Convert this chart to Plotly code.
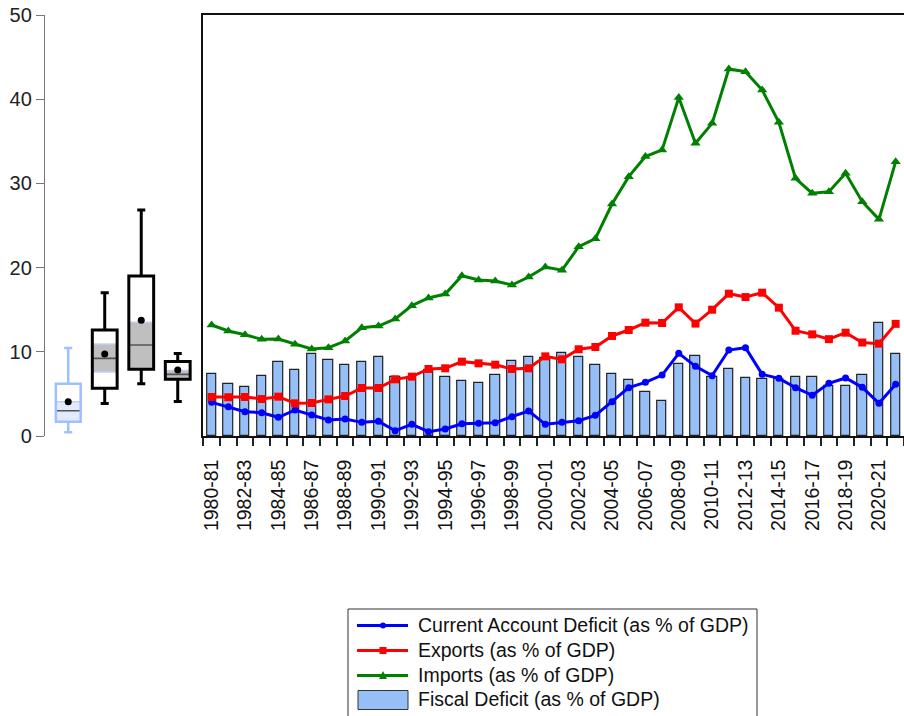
import plotly.graph_objects as go

years = ["1980-81","1981-82","1982-83","1983-84","1984-85","1985-86","1986-87","1987-88",
         "1988-89","1989-90","1990-91","1991-92","1992-93","1993-94","1994-95","1995-96",
         "1996-97","1997-98","1998-99","1999-00","2000-01","2001-02","2002-03","2003-04",
         "2004-05","2005-06","2006-07","2007-08","2008-09","2009-10","2010-11","2011-12",
         "2012-13","2013-14","2014-15","2015-16","2016-17","2017-18","2018-19","2019-20",
         "2020-21","2021-22"]

cad = [4.0,3.48,2.89,2.77,2.22,3.09,2.49,1.9,2.02,1.62,1.74,0.63,1.39,0.51,0.83,1.46,1.5,1.58,2.3,2.97,
       1.39,1.62,1.82,2.45,4.08,5.74,6.37,7.24,9.82,8.27,7.17,10.21,10.49,7.32,6.85,5.74,4.83,6.26,6.89,5.78,
       3.88,6.14]
exports = [4.63,4.59,4.63,4.39,4.67,3.88,3.92,4.35,4.75,5.7,5.7,6.73,7.05,7.96,8.04,8.83,8.63,8.47,7.96,8.04,
           9.46,9.1,10.3,10.57,11.88,12.59,13.46,13.42,15.28,13.35,15.0,16.9,16.5,17.02,15.24,12.5,12.07,11.5,
           12.27,11.1,10.97,13.32]
imports = [13.18,12.47,12.03,11.48,11.52,10.89,10.33,10.49,11.28,12.86,13.06,13.9,15.48,16.39,16.86,19.04,
           18.53,18.41,17.93,18.88,20.07,19.7,22.48,23.44,27.55,30.8,33.18,33.97,40.19,34.76,37.13,43.59,43.27,
           41.09,37.25,30.6,28.82,29.02,31.2,27.83,25.73,32.58]
fiscal = [7.36,6.18,5.78,7.13,8.79,7.84,9.74,9.03,8.39,8.83,9.34,6.97,7.0,7.84,7.05,6.53,6.29,7.2,8.87,9.34,
          9.25,9.82,9.42,8.43,7.4,6.61,5.19,4.12,8.51,9.54,7.0,7.92,6.93,6.73,6.73,6.97,6.97,5.9,5.9,7.2,
          13.38,9.7]

series_names = ["Current Account Deficit (as % of GDP)", "Exports (as % of GDP)",
                "Imports (as % of GDP)", "Fiscal Deficit (as % of GDP)"]
series_colors = ["#0000ff", "#ff0000", "#008000", "#97bff7"]

# box-plot summaries (one per series: CAD, Exports, Imports, Fiscal)
box_pos = [1, 2, 3, 4]
box_lo = [0.45, 3.85, 6.2, 4.1]
box_q1 = [1.7, 5.66, 7.92, 6.73]
box_med = [3.0, 9.22, 10.8, 7.32]
box_q3 = [6.2, 12.59, 19.0, 8.85]
box_hi = [10.45, 17.0, 26.85, 9.8]
box_mean = [4.08, 9.74, 13.76, 7.84]
band_lo = [1.7, 7.6, 7.95, 6.73]
band_hi = [4.08, 10.93, 13.5, 7.78]
box_line = ["#9dc0ff", "#000000", "#000000", "#000000"]
band_fill = ["#e2eafc", "#bfbfbf", "#bfbfbf", "#bfbfbf"]

idx = list(range(len(years)))
FONT = "Liberation Sans, Arial, sans-serif"

fig = go.Figure()

fig.add_trace(go.Bar(x=idx, y=fiscal, xaxis="x2", yaxis="y2", width=0.56,
                     marker=dict(color=series_colors[3], line=dict(color="#222222", width=1.2)),
                     name=series_names[3], showlegend=False))
fig.add_trace(go.Scatter(x=idx, y=cad, xaxis="x2", yaxis="y2", mode="lines+markers",
                         line=dict(color=series_colors[0], width=3), marker=dict(symbol="circle", size=7),
                         name=series_names[0], showlegend=False))
fig.add_trace(go.Scatter(x=idx, y=exports, xaxis="x2", yaxis="y2", mode="lines+markers",
                         line=dict(color=series_colors[1], width=3), marker=dict(symbol="square", size=8),
                         name=series_names[1], showlegend=False))
fig.add_trace(go.Scatter(x=idx, y=imports, xaxis="x2", yaxis="y2", mode="lines+markers",
                         line=dict(color=series_colors[2], width=3), marker=dict(symbol="triangle-up", size=9),
                         name=series_names[2], showlegend=False))

# mean dots of box plots
fig.add_trace(go.Scatter(x=box_pos, y=box_mean, xaxis="x", yaxis="y", mode="markers",
                         marker=dict(color="black", size=7, line=dict(width=0)), showlegend=False))

shapes = []
hw = 0.34   # half box width (data units)
cw = 0.11   # half cap width
for k, lo, q1, md, q3, hi, blo, bhi, lc, bf in zip(box_pos, box_lo, box_q1, box_med, box_q3, box_hi,
                                                    band_lo, band_hi, box_line, band_fill):
    lw = 2.5 if k == 1 else 3
    shapes.append(dict(type="rect", xref="x", yref="y", x0=k-hw, x1=k+hw, y0=blo, y1=bhi,
                       fillcolor=bf, line=dict(width=0), layer="below"))
    for yy in (blo, bhi):
        shapes.append(dict(type="line", xref="x", yref="y", x0=k-hw, x1=k+hw, y0=yy, y1=yy,
                           line=dict(color="#c6cdf2", width=1.5), layer="below"))
    shapes.append(dict(type="line", xref="x", yref="y", x0=k-hw, x1=k+hw, y0=md, y1=md,
                       line=dict(color="#555555", width=1.6), layer="below"))
    shapes.append(dict(type="rect", xref="x", yref="y", x0=k-hw, x1=k+hw, y0=q1, y1=q3,
                       line=dict(color=lc, width=lw), layer="below"))
    shapes.append(dict(type="line", xref="x", yref="y", x0=k, x1=k, y0=q3, y1=hi,
                       line=dict(color=lc, width=lw), layer="below"))
    shapes.append(dict(type="line", xref="x", yref="y", x0=k, x1=k, y0=lo, y1=q1,
                       line=dict(color=lc, width=lw), layer="below"))
    for yy in (lo, hi):
        shapes.append(dict(type="line", xref="x", yref="y", x0=k-cw, x1=k+cw, y0=yy, y1=yy,
                           line=dict(color=lc, width=lw), layer="below"))

# ---- manual legend (pixel layout -> paper coords) ----
L, T, W, H = 45, 15, 859, 421
def px(x):
    return (x - L) / W
def py(y):
    return (T + H - y) / H

annotations = []
shapes.append(dict(type="rect", xref="paper", yref="paper", x0=px(348), x1=px(757), y0=py(609), y1=py(735),
                   fillcolor="white", line=dict(color="#333333", width=1)))
row_y = [625.5, 650.5, 675.5, 700]
for i, (nm, col) in enumerate(zip(series_names, series_colors)):
    yc = row_y[i]
    if i < 3:
        shapes.append(dict(type="line", xref="paper", yref="paper", x0=px(357), x1=px(408),
                           y0=py(yc), y1=py(yc), line=dict(color=col, width=3)))
        if i == 0:
            shapes.append(dict(type="circle", xref="paper", yref="paper", x0=px(380), x1=px(386),
                               y0=py(yc + 3), y1=py(yc - 3), fillcolor=col, line=dict(width=0)))
        elif i == 1:
            shapes.append(dict(type="rect", xref="paper", yref="paper", x0=px(379.5), x1=px(386.5),
                               y0=py(yc + 3.5), y1=py(yc - 3.5), fillcolor=col, line=dict(width=0)))
        else:
            shapes.append(dict(type="path", xref="paper", yref="paper",
                               path="M %f %f L %f %f L %f %f Z" % (px(379), py(yc + 3.5), px(387), py(yc + 3.5),
                                                                  px(383), py(yc - 4.5)),
                               fillcolor=col, line=dict(width=0)))
    else:
        shapes.append(dict(type="rect", xref="paper", yref="paper", x0=px(358), x1=px(408),
                           y0=py(yc + 9.5), y1=py(yc - 9.5), fillcolor=col,
                           line=dict(color="#333333", width=1)))
    annotations.append(dict(xref="paper", yref="paper", x=px(416), y=py(yc - 1), text=nm,
                            showarrow=False, xanchor="left", yanchor="middle",
                            font=dict(size=19.5, color="#111111")))

split = (203.3 - 45) / 859

fig.update_layout(
    width=904, height=716,
    margin=dict(l=45, r=0, t=15, b=280, autoexpand=False),
    paper_bgcolor="white", plot_bgcolor="white",
    font=dict(family=FONT, size=19, color="#111111"),
    shapes=shapes, annotations=annotations,
    showlegend=False,
    bargap=0,
    xaxis=dict(domain=[0, split], range=[0.364, 4.70], visible=False, anchor="y", automargin=False),
    yaxis=dict(range=[0, 50], dtick=10, anchor="x", showline=True, linecolor="#777777", linewidth=1.3,
               ticks="outside", ticklen=8, tickcolor="#777777", tickwidth=1.3, showgrid=False,
               zeroline=False, automargin=False, tickfont=dict(size=20, color="#222222")),
    xaxis2=dict(domain=[split, 1], range=[-0.5, len(years) - 0.5], anchor="y2", automargin=False,
                showline=True, mirror=True, linecolor="#111111", linewidth=1.5, showgrid=False,
                zeroline=False, tickmode="array", tickvals=idx[::2], ticktext=years[::2],
                tickangle=-90, ticks="outside", ticklen=14, tickcolor="rgba(0,0,0,0)",
                tickfont=dict(size=19.5, color="#111111"),
                minor=dict(ticks="outside", ticklen=8, tickcolor="#222222", tickwidth=1.5,
                           tickmode="array", tickvals=[i - 0.5 for i in range(len(years) + 1)],
                           showgrid=False)),
    yaxis2=dict(range=[0, 50], anchor="x2", showline=True, linecolor="#111111", linewidth=1.5,
                showticklabels=False, ticks="", showgrid=False, zeroline=False, automargin=False),
)

fig.write_html("out.html")
